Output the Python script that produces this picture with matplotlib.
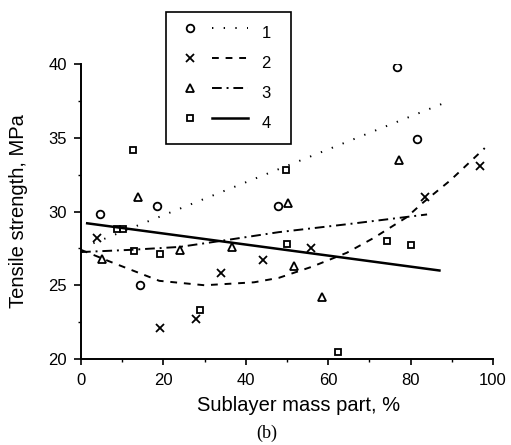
import matplotlib
matplotlib.use("Agg")
from matplotlib import pyplot as plt
from matplotlib.lines import Line2D

plt.rcParams['font.family'] = ['Liberation Sans', 'DejaVu Sans']

x1 = [4.6, 14.3, 18.4, 47.9, 76.6, 81.6]
y1 = [29.8, 25.0, 30.4, 30.4, 39.8, 34.9]

x2 = [3.8, 19.2, 27.9, 34.1, 44.1, 55.8, 83.5, 96.8]
y2 = [28.2, 22.1, 22.7, 25.85, 26.7, 27.55, 31.0, 33.1]

x3 = [5.0, 13.9, 24.0, 36.6, 50.3, 51.8, 58.4, 77.2]
y3 = [26.8, 31.0, 27.4, 27.6, 30.6, 26.3, 24.2, 33.5]

x4 = [8.7, 10.3, 12.5, 12.9, 19.2, 29.0, 49.8, 50.1, 62.3, 74.3, 80.1]
y4 = [28.8, 28.8, 34.2, 27.3, 27.1, 23.3, 32.8, 27.8, 20.45, 28.0, 27.7]

# fitted curves
fx1 = [3, 89]
fy1 = [27.85, 37.45]

fx2 = [0, 7.5, 19, 30, 42, 48, 56, 64.5, 71, 79, 83, 89.6, 98]
fy2 = [27.4, 26.55, 25.3, 25.0, 25.2, 25.5, 26.25, 27.2, 28.2, 29.6, 30.6, 32.1, 34.3]

fx3 = [0, 12, 24, 35, 48, 65, 84]
fy3 = [27.25, 27.4, 27.6, 28.05, 28.6, 29.15, 29.8]

fx4 = [1.5, 87]
fy4 = [29.2, 26.0]

labels = ["1", "2", "3", "4"]

fig = plt.figure(figsize=(5.11, 4.45), dpi=100)
ax = fig.add_axes([81/511, 1-359/445, 412/511, 295/445])

dot = (0, (0.7, 5.3))
dash = (0, (3.5, 3.5))
dashdot = (0, (5, 2.5, 1, 2.5))

ax.plot(fx1, fy1, color='k', lw=1.4, ls=dot)
ax.plot(fx2, fy2, color='k', lw=1.4, ls=dash)
ax.plot(fx3, fy3, color='k', lw=1.4, ls=dashdot)
ax.plot(fx4, fy4, color='k', lw=1.8, ls='-')

mk = dict(ls='none', mfc='none', mec='k', mew=1.3)
ax.plot(x1, y1, marker='o', ms=5.5, **mk)
ax.plot(x2, y2, marker='x', ms=5.5, **mk)
ax.plot(x3, y3, marker='^', ms=6, **mk)
ax.plot(x4, y4, marker='s', ms=5, **mk)

ax.set_xlim(0, 100)
ax.set_ylim(20, 40)
ax.set_xticks([0, 20, 40, 60, 80, 100])
ax.set_xticks([10, 30, 50, 70, 90], minor=True)
ax.set_yticks([20, 25, 30, 35, 40])
ax.set_yticks([22.5, 27.5, 32.5, 37.5], minor=True)
for s in ['top', 'right']:
    ax.spines[s].set_visible(False)
for s in ['left', 'bottom']:
    ax.spines[s].set_linewidth(1.4)
ax.tick_params(which='major', direction='out', length=4, width=1.2, labelsize=12)
ax.tick_params(axis='x', which='major', pad=6)
ax.tick_params(axis='y', which='major', length=5, pad=5)
ax.tick_params(which='minor', direction='out', length=2.5, width=1.0)

ax.set_ylabel("Tensile strength, MPa", fontsize=14.5)
ax.yaxis.set_label_coords(-0.129, 0.503)
ax.text(0.527, -0.156, "Sublayer mass part, %", transform=ax.transAxes,
        ha='center', va='center', fontsize=14.5)
fig.text(267/511, 1-433/445, "(b)", ha='center', va='center', fontsize=13,
         family=['Liberation Serif', 'DejaVu Serif'])

# legend: marker column then line column with label
mhandles = [Line2D([], [], marker=m, ms=s, **mk) for m, s in
            [('o', 5.5), ('x', 5.5), ('^', 6), ('s', 5)]]
lhandles = [Line2D([], [], color='k', lw=1.4, ls=dot),
            Line2D([], [], color='k', lw=1.4, ls=dash),
            Line2D([], [], color='k', lw=1.4, ls=dashdot),
            Line2D([], [], color='k', lw=1.8, ls='-')]
leg = fig.legend(mhandles + lhandles, [""]*4 + [l + "   " for l in labels], ncol=2,
                 loc='upper left', bbox_to_anchor=(166/511, 1-12/445),
                 bbox_transform=fig.transFigure, fontsize=12,
                 borderpad=0.36, handleheight=2.39, handlelength=2.16,
                 handletextpad=0.84, columnspacing=-0.6, labelspacing=0,
                 borderaxespad=0, fancybox=False, framealpha=1)
leg.get_frame().set_edgecolor('k')
leg.get_frame().set_linewidth(1.2)

fig.savefig("out.png", dpi=100)
